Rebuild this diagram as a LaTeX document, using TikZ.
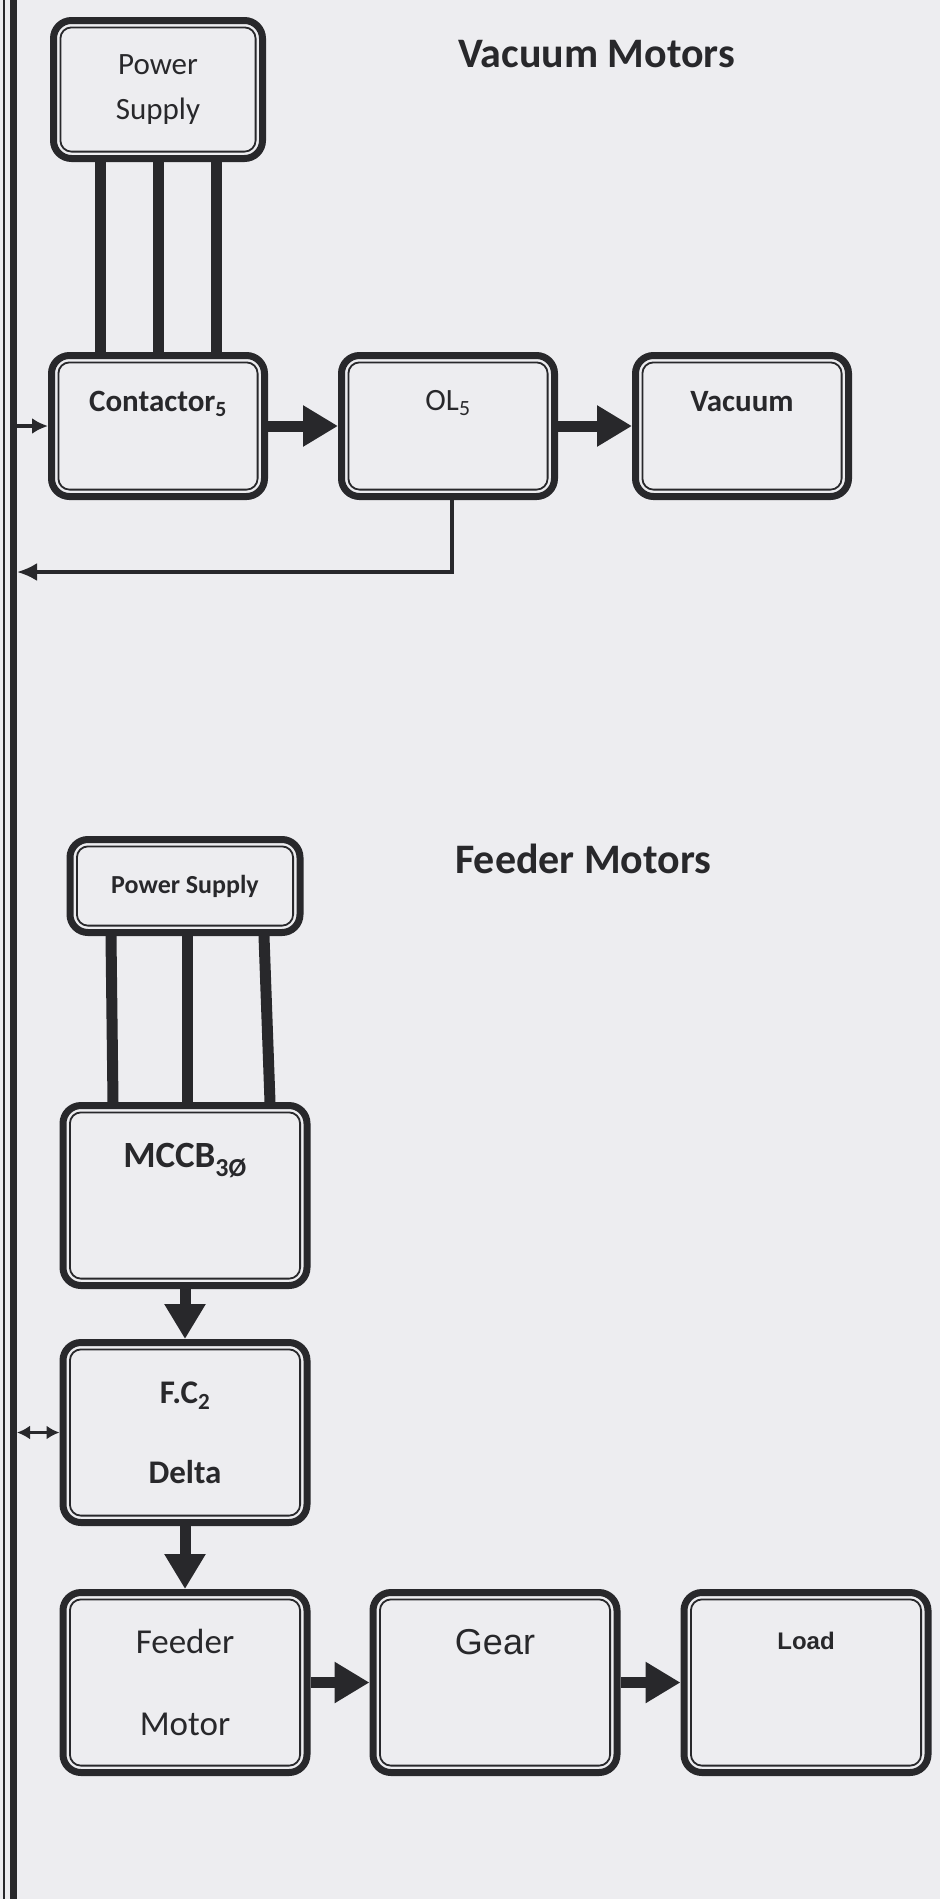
\documentclass[tikz,border=0pt]{standalone}
\usepackage{fontspec}
\setmainfont{Carlito}
\newfontfamily\arialfont{Liberation Sans}
\usepackage{tikz}
\usetikzlibrary{arrows.meta,positioning}
\definecolor{paper}{RGB}{237,237,240}
\definecolor{ink}{RGB}{40,40,43}
\tikzset{
    blk title/.style={font=\fontsize{42}{46}\selectfont\bfseries, text=ink, inner sep=0pt, anchor=base west},
    blk box/.style={
        draw=ink,
        line width=7pt,
        rounded corners=18pt,
        minimum width=213pt,
        minimum height=141pt,
        align=center,
        inner sep=0pt,
        text=ink,
        font=\fontsize{31}{36}\selectfont
    },
    blk wide/.style={blk box, minimum width=244pt, minimum height=180pt},
    blk lift/.style={text height=18pt, text depth=#1},
    blk inner/.style={draw=ink, line width=1.8pt, rounded corners=11pt},
    blk flow/.style={-{Triangle[length=35pt,width=39pt]}, line width=11pt, draw=ink},
    blk phase/.style={line width=11pt, draw=ink},
    blk bus/.style={line width=7pt, draw=ink},
    blk bus thin/.style={line width=2.5pt, draw=ink},
    blk feedback/.style={-{Latex[length=20pt,width=18pt]}, line width=3.5pt, draw=ink},
    blk tap/.style={-{Latex[length=16pt,width=16pt]}, line width=3.2pt, draw=ink},
    blk tap both/.style={{Latex[length=13pt,width=14pt]}-{Latex[length=13pt,width=14pt]}, line width=3.2pt, draw=ink}
}
\begin{document}
\begin{tikzpicture}[x=1pt, y=-1pt]
\fill[paper] (0,0) rectangle (940,1899);
\useasboundingbox (0,0) rectangle (940,1899);

% Bus bar on the left
\coordinate (bus top) at (13,0);
\coordinate (bus bot) at (13,1899);
\coordinate (bus edge) at (17,0);
\draw[blk bus thin] ([xshift=-9pt]bus top) -- ([xshift=-9pt]bus bot);
\draw[blk bus] (bus top) -- (bus bot);

% Vacuum motors
\node[blk title] (vactitle) at (458,67) {Vacuum Motors};
\node[blk box, font=\fontsize{31}{36}\selectfont\bfseries, blk lift=48pt] (cont) at (158,426) {Contactor\textsubscript{5}};
\node[blk box, minimum width=209pt, minimum height=138pt, font=\fontsize{31}{45}\selectfont, above=190pt of cont] (ps1) {Power\\Supply};
\node[blk box, blk lift=50pt, right=70pt of cont] (ol) {OL\textsubscript{5}};
\node[blk box, font=\fontsize{31}{36}\selectfont\bfseries, blk lift=47pt, right=74pt of ol] (vac) {Vacuum};
\coordinate (fb end) at (17,572);
\foreach \dx in {-58,0,58}
    \draw[blk phase] ([xshift=\dx pt]ps1.south) -- ([xshift=\dx pt]ps1.south |- cont.north);
\draw[blk tap] (bus edge |- cont.west) -- (cont.west);
\draw[blk flow] (cont) -- (ol);
\draw[blk flow] (ol) -- (vac);
\draw[blk feedback] ([xshift=4pt]ol.south) |- (fb end);

% Feeder motors
\node[blk title] (feedtitle) at (455,873) {Feeder Motors};
\node[blk wide, font=\fontsize{37}{40}\selectfont\bfseries, blk lift=75pt] (mccb) at (185,1195.5) {MCCB\textsubscript{3Ø}};
\node[blk box, minimum width=230pt, minimum height=93pt, font=\fontsize{26}{30}\selectfont\bfseries, above=166pt of mccb] (ps2) {Power Supply};
\node[blk wide, font=\fontsize{33}{80}\selectfont\bfseries, below=50pt of mccb] (fc) {F.C\textsubscript{2}\\Delta};
\node[blk wide, font=\fontsize{35}{82}\selectfont, below=63pt of fc] (fm) {Feeder\\Motor};
\node[blk wide, font=\arialfont\fontsize{36}{40}\selectfont, blk lift=75pt, right=59pt of fm] (gear) {Gear};
\node[blk wide, font=\arialfont\fontsize{24}{28}\selectfont\bfseries, blk lift=85pt, right=60pt of gear] (load) {Load};
\foreach \a/\b in {-74/-72, 2/2, 79/85}
    \draw[blk phase] ([xshift=\a pt]ps2.south) -- ([xshift=\b pt]mccb.north);
\draw[blk flow] (mccb) -- (fc);
\draw[blk flow] (fc) -- (fm);
\draw[blk flow] (fm) -- (gear);
\draw[blk flow] (gear) -- (load);
\draw[blk tap both] (bus edge |- fc.west) -- (fc.west);

% thin inner outline of every block
\foreach \n in {ps1,cont,ol,vac,ps2,mccb,fc,fm,gear,load}
    \draw[blk inner] ([shift={(10.4pt,-10.4pt)}]\n.north west) rectangle ([shift={(-10.4pt,10.4pt)}]\n.south east);
\end{tikzpicture}
\end{document}
